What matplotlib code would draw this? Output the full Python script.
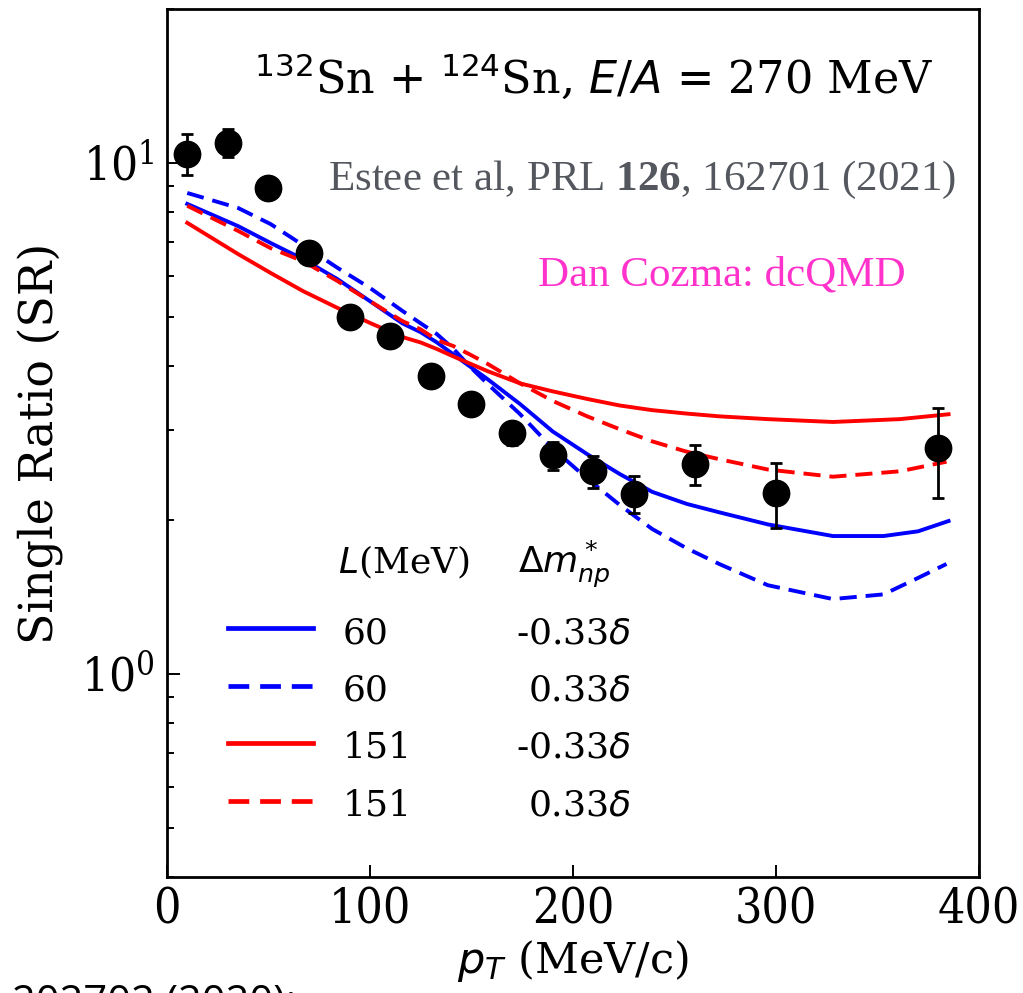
import matplotlib
matplotlib.use("Agg")
import matplotlib.pyplot as plt
from matplotlib.lines import Line2D
from matplotlib.ticker import NullFormatter, LogLocator

# Measured single ratio (132Sn + 124Sn, E/A = 270 MeV)
pt_data = [10, 30, 50, 70, 90, 110, 130, 150, 170, 190, 210, 230, 260, 300, 380]
sr_data = [10.42, 10.95, 8.93, 6.66, 4.99, 4.58, 3.82, 3.37, 2.955, 2.676, 2.49, 2.25, 2.57, 2.26, 2.76]
sr_err = [0.95, 0.70, 0.30, 0.25, 0.20, 0.20, 0.15, 0.15, 0.15, 0.17, 0.18, 0.19, 0.23, 0.33, 0.55]

# dcQMD calculations: L = 60 MeV
pt_l60_neg = [10, 35, 51, 67, 84, 100, 116, 125, 133, 141, 149, 158, 174, 190, 207, 223, 239, 256, 272, 296, 328, 353, 370, 385]
sr_l60_neg = [8.31, 7.52, 6.97, 6.48, 5.92, 5.36, 4.85, 4.66, 4.45, 4.22, 4.00, 3.77, 3.37, 2.98, 2.69, 2.46, 2.27, 2.15, 2.07, 1.96, 1.86, 1.86, 1.90, 1.99]
pt_l60_pos = [10, 35, 51, 70, 84, 100, 116, 125, 133, 141, 149, 158, 174, 190, 207, 223, 239, 256, 272, 296, 328, 353, 370, 384]
sr_l60_pos = [8.73, 8.16, 7.59, 6.78, 6.23, 5.69, 5.13, 4.85, 4.62, 4.33, 4.00, 3.69, 3.22, 2.76, 2.41, 2.14, 1.92, 1.76, 1.64, 1.49, 1.40, 1.43, 1.54, 1.64]

# dcQMD calculations: L = 151 MeV
pt_l151_neg = [10, 35, 51, 67, 84, 100, 116, 125, 133, 141, 149, 158, 174, 190, 207, 223, 239, 256, 272, 296, 328, 361, 385]
sr_l151_neg = [7.63, 6.63, 6.09, 5.61, 5.20, 4.86, 4.56, 4.45, 4.32, 4.18, 4.05, 3.91, 3.70, 3.57, 3.45, 3.35, 3.28, 3.23, 3.19, 3.15, 3.11, 3.15, 3.22]
pt_l151_pos = [10, 35, 51, 67, 84, 100, 116, 125, 133, 141, 149, 158, 174, 190, 207, 223, 239, 256, 272, 296, 328, 361, 384]
sr_l151_pos = [8.24, 7.36, 6.81, 6.42, 5.87, 5.36, 4.90, 4.72, 4.50, 4.38, 4.22, 4.04, 3.70, 3.42, 3.19, 3.01, 2.85, 2.72, 2.63, 2.51, 2.43, 2.49, 2.60]

legend_L = ["60", "60", "151", "151"]
legend_dm = ["-0.33$\\delta$", "0.33$\\delta$", "-0.33$\\delta$", "0.33$\\delta$"]

x_ticks = [0, 100, 200, 300, 400]

plt.rcParams["font.family"] = ["DejaVu Serif"]
plt.rcParams["mathtext.fontset"] = "dejavuserif"
plt.rcParams["mathtext.rm"] = "Liberation Serif"
plt.rcParams["mathtext.bf"] = "Liberation Serif:bold"
plt.rcParams["mathtext.it"] = "Liberation Serif:italic"

STRETCH = "condensed"
BLUE = "#0000ff"
RED = "#ff0000"
LW = 2.8
DASH = (4.4, 2.3)

fig = plt.figure(figsize=(10.23, 9.93), dpi=100)
ax = fig.add_axes([0.1632, 0.1168, 0.7938, 0.8741])

styles = [
    (pt_l60_neg, sr_l60_neg, BLUE, "-"),
    (pt_l60_pos, sr_l60_pos, BLUE, "--"),
    (pt_l151_neg, sr_l151_neg, RED, "-"),
    (pt_l151_pos, sr_l151_pos, RED, "--"),
]
for xs, ys, c, ls in styles:
    line, = ax.plot(xs, ys, color=c, lw=LW, ls=ls, zorder=2)
    if ls == "--":
        line.set_dashes(DASH)

ax.errorbar(pt_data, sr_data, yerr=sr_err, fmt="o", color="black",
            markersize=19, elinewidth=2.0, capsize=4.4, capthick=2.0, zorder=3)

ax.set_yscale("log")
ax.set_xlim(0, 400)
ax.set_ylim(0.4, 20)
ax.set_xticks(x_ticks)
ax.yaxis.set_major_locator(LogLocator(base=10))
ax.yaxis.set_minor_locator(LogLocator(base=10, subs=range(2, 10)))
ax.yaxis.set_minor_formatter(NullFormatter())

for s in ax.spines.values():
    s.set_linewidth(2.0)
ax.tick_params(which="both", direction="in", top=False, right=False, width=1.4)
ax.tick_params(which="major", length=9)
ax.tick_params(which="minor", length=5)
ax.tick_params(axis="x", which="major", labelsize=34.5, pad=7)
ax.tick_params(axis="y", which="major", labelsize=34, pad=9)
for lbl in ax.get_xticklabels() + ax.get_yticklabels():
    lbl.set_fontstretch(STRETCH)

ax.set_xlabel("$p_T$ (MeV/c)", fontsize=31, labelpad=3, math_fontfamily="dejavusans")
ax.set_ylabel("Single Ratio (SR)", fontsize=33, labelpad=12)

ax.text(0.526, 0.9032, "$^{132}$Sn + $^{124}$Sn, $E/A$ = 270 MeV", transform=ax.transAxes,
        ha="center", va="baseline", fontsize=32,
        math_fontfamily="dejavusans")
ax.text(0.585, 0.7915, "Estee et al, PRL $\\mathbf{126}$, 162701 (2021)", transform=ax.transAxes,
        ha="center", va="baseline", fontsize=31, family="Liberation Serif", color="#54585e",
        math_fontfamily="custom")
ax.text(0.683, 0.682, "Dan Cozma: dcQMD", transform=ax.transAxes,
        ha="center", va="baseline", fontsize=31, family="Liberation Serif", color="#ff33cc")

# Key table: line samples, L values and effective-mass splittings
row_y = [0.2696, 0.2039, 0.1382, 0.0714]
line_y = [0.2869, 0.2200, 0.1544, 0.0876]
ax.text(0.2106, 0.3502, "$L$(MeV)", transform=ax.transAxes, fontsize=26,
        va="baseline", math_fontfamily="dejavusans")
ax.text(0.4323, 0.3502, "$\\Delta m^*_{np}$", transform=ax.transAxes, fontsize=26,
        va="baseline", math_fontfamily="dejavusans")
for i, (xs, ys, c, ls) in enumerate(styles):
    h = Line2D([0.0751, 0.1798], [line_y[i], line_y[i]], transform=ax.transAxes,
               color=c, lw=LW + 0.6, ls=ls)
    if ls == "--":
        h.set_dashes(DASH)
    ax.add_line(h)
    ax.text(0.2167, row_y[i], legend_L[i], transform=ax.transAxes, fontsize=26,
            va="baseline")
    xdm = 0.4298 if legend_dm[i].startswith("-") else 0.4446
    ax.text(xdm, row_y[i], legend_dm[i], transform=ax.transAxes, fontsize=26,
            va="baseline", math_fontfamily="dejavusans")

fig.text(0.012, -0.022, "202702 (2020);", fontsize=30, family="Open Sans",
         va="baseline", ha="left")

fig.savefig("out.png", dpi=100)
